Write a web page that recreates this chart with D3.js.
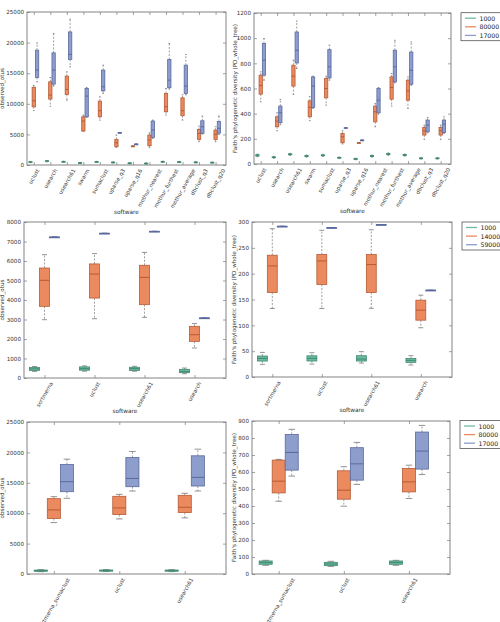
<!DOCTYPE html>
<html>
<head>
<meta charset="utf-8">
<script src="https://cdn.jsdelivr.net/npm/d3@7"></script>
<style>
body { margin: 0; background: #fff; }
text { font-family: "DejaVu Sans", sans-serif; }
</style>
</head>
<body>
<div id="chart"></div>
<script>
// every box is [low whisker, q1, median, q3, high whisker]
var topSoftware = ["uclust", "usearch", "usearch61", "swarm", "sumaclust", "uparse_q3", "uparse_q16",
    "mothur_nearest", "mothur_furthest", "mothur_average", "dbclust_q3", "dbclust_q20"];
var topDepths = ["1000", "80000", "17000"];

var topOtus1000 = [[380, 430, 480, 530, 580], [520, 580, 640, 690, 740], [420, 480, 540, 590, 640],
    [240, 290, 340, 390, 430], [400, 450, 500, 550, 600], [330, 380, 430, 470, 520], [200, 250, 300, 340, 380],
    [160, 210, 260, 300, 350], [430, 490, 540, 590, 640], [390, 440, 490, 540, 590], [340, 390, 440, 490, 540],
    [300, 350, 400, 450, 500]];
var topOtus80000 = [[8900, 9500, 10500, 12700, 13000], [9600, 10770, 11420, 13590, 14300],
    [10600, 11530, 12350, 14520, 15220], [5500, 5550, 7180, 7880, 8160], [7340, 7880, 8860, 10440, 11140],
    [2880, 2990, 3640, 4190, 4890], [3100, 3100, 3100, 3100, 3100], [2890, 3150, 4080, 4890, 5270],
    [8160, 8700, 9510, 11700, 12510], [7340, 8050, 8860, 10980, 11470], [3810, 4190, 5170, 5820, 6360],
    [3810, 4190, 5000, 5710, 6250]];
var topOtus170000 = [[13600, 14300, 15500, 18760, 19950], [12890, 13210, 15500, 18320, 21480],
    [16040, 17240, 18060, 21740, 23820], [7780, 7880, 11260, 12510, 12670], [11700, 12120, 12780, 15500, 16310],
    [5300, 5300, 5300, 5300, 5300], [3420, 3420, 3420, 3420, 3420], [4350, 4520, 5710, 7180, 7340],
    [12400, 12620, 13870, 17240, 19850], [11470, 11700, 12890, 16310, 18060], [5060, 5170, 6250, 7230, 7990],
    [5000, 5200, 6000, 7100, 8000]];

var topPd1000 = [[58, 63, 69, 74, 79], [46, 50, 53, 57, 60], [68, 73, 77, 81, 85], [54, 59, 63, 67, 71],
    [60, 65, 69, 73, 77], [43, 47, 50, 53, 56], [34, 37, 40, 43, 46], [54, 59, 63, 67, 71], [69, 74, 79, 84, 88],
    [62, 67, 71, 75, 79], [39, 42, 45, 48, 51], [39, 42, 45, 48, 51]];
var topPd80000 = [[494, 555, 624, 706, 732], [264, 296, 341, 375, 407], [553, 619, 698, 785, 825],
    [344, 375, 450, 502, 535], [468, 526, 600, 680, 698], [159, 169, 216, 243, 264], [169, 169, 169, 169, 169],
    [296, 335, 415, 460, 481], [460, 515, 608, 692, 719], [442, 507, 581, 666, 692], [196, 230, 264, 291, 309],
    [196, 230, 264, 291, 309]];
var topPd170000 = [[666, 706, 825, 957, 997], [311, 328, 407, 460, 513], [759, 803, 904, 1049, 1136],
    [442, 450, 619, 692, 698], [666, 684, 772, 909, 944], [288, 288, 288, 288, 288], [190, 190, 190, 190, 190],
    [396, 407, 507, 600, 608], [645, 653, 772, 904, 983], [626, 634, 745, 890, 970], [248, 256, 309, 349, 370],
    [243, 250, 317, 349, 375]];

var midSoftware = ["sortmerna", "uclust", "usearch61", "usearch"];
var midDepths = ["1000", "14000", "59000"];
var midOtus1000 = [[340, 390, 470, 540, 590], [350, 400, 480, 570, 620], [350, 390, 480, 550, 600],
    [220, 273, 340, 445, 510]];
var midOtus140000 = [[2990, 3675, 5010, 5640, 6325], [3040, 4100, 5330, 5850, 6380], [3110, 3760, 5160, 5780, 6440],
    [1540, 1880, 2220, 2650, 2790]];
var midOtus590000 = [[7230, 7230, 7230, 7230, 7230], [7420, 7420, 7420, 7420, 7420], [7520, 7520, 7520, 7520, 7520],
    [3080, 3080, 3080, 3080, 3080]];
var midPd1000 = [[24.5, 30.9, 36, 40.6, 47.6], [25, 31, 36, 41, 47], [27, 30.9, 34.8, 41.2, 49],
    [23.2, 28.3, 32.2, 36, 41.2]];
var midPd140000 = [[132.6, 163.6, 215, 235.7, 287], [132.6, 179, 224.7, 237, 284], [133, 163.6, 217.6, 237, 285],
    [95.3, 110, 129.4, 148.7, 158.4]];
var midPd590000 = [[291.7, 291.7, 291.7, 291.7, 291.7], [289, 289, 289, 289, 289], [295, 295, 295, 295, 295],
    [168, 168, 168, 168, 168]];

var botSoftware = ["sortmerna_sumaclust", "uclust", "usearch61"];
var botDepths = ["1000", "80000", "17000"];
var botOtus1000 = [[380, 450, 550, 650, 720], [400, 470, 560, 660, 730], [390, 460, 550, 650, 720]];
var botOtus80000 = [[8460, 9120, 10540, 12390, 12720], [9060, 9770, 10870, 12780, 13100],
    [9230, 10100, 10970, 12940, 13270]];
var botOtus170000 = [[12450, 13540, 15180, 18020, 18890], [13650, 14360, 15720, 19160, 20150],
    [13650, 14470, 15890, 19440, 20530]];
var botPd1000 = [[51, 57, 66.8, 76.6, 80.5], [45, 49, 59, 68.8, 74.7], [51, 57, 66.8, 76.6, 80.5]];
var botPd80000 = [[428, 477, 546, 670, 674], [399, 440, 493, 607, 631], [444, 483, 542, 621, 640]];
var botPd170000 = [[576, 611, 715, 821, 851], [527, 552, 648, 743, 774], [585, 617, 723, 835, 874]];

var fills = ["#6cbb9f", "#ec8a5f", "#8d9dcc"];
var edges = ["#3f8a70", "#b55b36", "#5a6aa0"];

var otusLabel = "observed_otus";
var pdLabel = "Faith's phylogenetic diversity (PD_whole_tree)";

var svg = d3.select("#chart").append("svg")
        .attr("width", 500)
        .attr("height", 622);

//------------------------------------------------------------------
function drawPanel(o) {
    var w = o.right - o.left, h = o.bottom - o.top;
    var n = o.categories.length;
    var g = svg.append("g").attr("transform", "translate(" + o.left + "," + o.top + ")");

    var x = d3.scaleLinear().domain([-0.41, n - 1 + 0.63]).range([0, w]);
    var y = d3.scaleLinear().domain([0, o.ymax]).range([h, 0]);
    var yticks = d3.range(0, o.ymax + o.ystep / 2, o.ystep);
    var xticks = d3.range(n);

    g.append("rect").attr("width", w).attr("height", h).style("fill", "#fff");

    // boxes
    var bw = x(0.2) - x(0);
    o.series.forEach(function (s, si) {
        var off = (si - 1) * 0.2;
        var sg = g.append("g").attr("class", "series" + si);
        var box = sg.selectAll("g").data(s).enter().append("g")
                .attr("transform", function (d, i) {
                    return "translate(" + x(i + off) + ",0)";
                });
        box.append("line").attr("y1", function (d) { return y(d[3]); })
                .attr("y2", function (d) { return y(d[4]); })
                .style("stroke", "#888").style("stroke-width", 0.8).style("stroke-dasharray", "2,1.5");
        box.append("line").attr("y1", function (d) { return y(d[1]); })
                .attr("y2", function (d) { return y(d[0]); })
                .style("stroke", "#888").style("stroke-width", 0.8).style("stroke-dasharray", "2,1.5");
        [0, 4].forEach(function (k) {
            box.append("line").attr("x1", -bw / 4).attr("x2", bw / 4)
                    .attr("y1", function (d) { return y(d[k]); })
                    .attr("y2", function (d) { return y(d[k]); })
                    .style("stroke", "#777").style("stroke-width", 0.8);
        });
        box.append("rect").attr("x", -bw / 2).attr("width", bw)
                .attr("y", function (d) { return y(d[3]); })
                .attr("height", function (d) { return Math.max(y(d[1]) - y(d[3]), 0.8); })
                .style("fill", fills[si]).style("stroke", edges[si]).style("stroke-width", 0.8);
        box.append("line").attr("x1", -bw / 2).attr("x2", bw / 2)
                .attr("y1", function (d) { return y(d[2]); })
                .attr("y2", function (d) { return y(d[2]); })
                .style("stroke", edges[si]).style("stroke-width", 1);
    });

    // axes, ticks pointing inwards on all four sides
    g.append("g").call(d3.axisLeft(y).tickValues(yticks).tickFormat(d3.format("d"))
            .tickSizeInner(-3).tickSizeOuter(0).tickPadding(3));
    g.append("g").attr("transform", "translate(" + w + ",0)")
            .call(d3.axisRight(y).tickValues(yticks).tickSizeInner(-3).tickSizeOuter(0).tickFormat(""));
    g.append("g").call(d3.axisTop(x).tickValues(xticks).tickSizeInner(-3).tickSizeOuter(0).tickFormat(""));
    g.append("g").attr("transform", "translate(0," + h + ")")
            .call(d3.axisBottom(x).tickValues(xticks).tickSizeInner(-3).tickSizeOuter(0).tickFormat(""));
    g.selectAll(".domain").remove();
    g.selectAll(".tick line").style("stroke", "#666").style("stroke-width", 0.6);
    g.selectAll(".tick text").style("font-size", "5.6px").style("fill", "#333")
            .style("font-family", "DejaVu Sans");

    g.append("rect").attr("width", w).attr("height", h)
            .style("fill", "none").style("stroke", "#777").style("stroke-width", 0.9);

    // rotated category labels
    var maxDrop = 0;
    xticks.forEach(function (i) {
        var t = g.append("text").text(o.categories[i])
                .style("font-size", "5.4px").style("fill", "#333")
                .attr("text-anchor", "middle").attr("dominant-baseline", "central");
        var len = t.node().getComputedTextLength();
        var drop = len * Math.sin(Math.PI / 3) + 5.4 * Math.cos(Math.PI / 3);
        maxDrop = Math.max(maxDrop, drop);
        t.attr("transform", "translate(" + x(i) + "," + (h + 3 + drop / 2) + ") rotate(-60)");
    });

    if (o.xlabel) {
        g.append("text").text("software").attr("text-anchor", "middle")
                .attr("x", w / 2).attr("y", h + 3 + maxDrop + 5)
                .style("font-size", "5.8px").style("fill", "#333");
    }
    g.append("text").text(o.ylabel).attr("text-anchor", "middle")
            .attr("transform", "translate(" + o.ylabelX + "," + (h / 2) + ") rotate(-90)")
            .style("font-size", "5.6px").style("fill", "#333");

    if (o.legend) {
        var lg = svg.append("g").attr("transform", "translate(" + o.legend[0] + "," + o.legend[1] + ")");
        lg.append("rect").attr("width", 60).attr("height", 28)
                .style("fill", "#fff").style("stroke", "#555").style("stroke-width", 0.8);
        o.legendLabels.forEach(function (lab, k) {
            var yy = 5.5 + k * 8.6;
            lg.append("line").attr("x1", 4).attr("x2", 15).attr("y1", yy).attr("y2", yy)
                    .style("stroke", fills[k]).style("stroke-width", 1.3);
            lg.append("text").text(lab).attr("x", 18.5).attr("y", yy).attr("dominant-baseline", "central")
                    .style("font-size", "6.2px").style("fill", "#222");
        });
    }
}

drawPanel({left: 27, right: 226, top: 12, bottom: 165, categories: topSoftware, ymax: 25000, ystep: 5000,
    series: [topOtus1000, topOtus80000, topOtus170000], ylabel: otusLabel, ylabelX: -23, xlabel: true});
drawPanel({left: 254, right: 451, top: 13, bottom: 164, categories: topSoftware, ymax: 1200, ystep: 200,
    series: [topPd1000, topPd80000, topPd170000], ylabel: pdLabel, ylabelX: -17, xlabel: true,
    legend: [461, 12.7], legendLabels: topDepths});

drawPanel({left: 24, right: 226, top: 222, bottom: 378, categories: midSoftware, ymax: 8000, ystep: 1000,
    series: [midOtus1000, midOtus140000, midOtus590000], ylabel: otusLabel, ylabelX: -20, xlabel: true});
drawPanel({left: 252, right: 452, top: 222, bottom: 377, categories: midSoftware, ymax: 300, ystep: 50,
    series: [midPd1000, midPd140000, midPd590000], ylabel: pdLabel, ylabelX: -16, xlabel: true,
    legend: [462, 222], legendLabels: midDepths});

// bottom row runs off the page, its x label is not visible
drawPanel({left: 27, right: 226, top: 422, bottom: 574, categories: botSoftware, ymax: 25000, ystep: 5000,
    series: [botOtus1000, botOtus80000, botOtus170000], ylabel: otusLabel, ylabelX: -23, xlabel: false});
drawPanel({left: 252, right: 450, top: 421, bottom: 574, categories: botSoftware, ymax: 900, ystep: 100,
    series: [botPd1000, botPd80000, botPd170000], ylabel: pdLabel, ylabelX: -16, xlabel: false,
    legend: [460, 420.5], legendLabels: botDepths});
</script>
</body>
</html>
